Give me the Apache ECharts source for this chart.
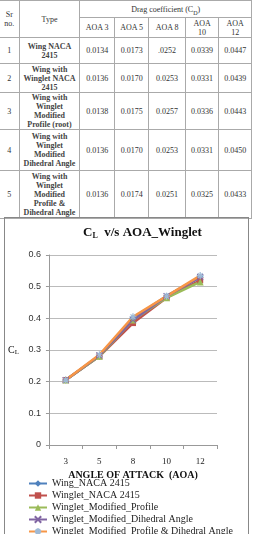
<!DOCTYPE html>
<html>
<head>
<meta charset="utf-8">
<script src="https://cdn.jsdelivr.net/npm/echarts@6/dist/echarts.min.js"></script>
<style>
html,body{margin:0;padding:0;width:253px;height:534px;overflow:hidden;background:#fff;}
#tbl{position:absolute;left:-1px;top:0;border-collapse:collapse;table-layout:fixed;
  font-family:"Liberation Serif","DejaVu Serif",serif;font-size:8px;line-height:9px;color:#333;}
#tbl td{border:1px solid #aaa;text-align:center;vertical-align:middle;padding:0;overflow:visible;}
#tbl td.ty{font-weight:bold;color:#444;}
#main{position:absolute;left:4px;top:217px;width:245px;height:330px;box-sizing:border-box;border:1px solid #888;}
</style>
</head>
<body>
<table id="tbl"></table>
<div id="main"></div>
<script>
// table data
var srNo = ['1','2','3','4','5'];
var types = ['Wing NACA<br>2415','Wing with<br>Winglet NACA<br>2415','Wing with<br>Winglet<br>Modified<br>Profile (root)',
  'Wing with<br>Winglet<br>Modified<br>Dihedral Angle','Wing with<br>Winglet<br>Modified<br>Profile &amp;<br>Dihedral Angle'];
var aoaHead = ['AOA 3','AOA 5','AOA 8','AOA<br>10','AOA<br>12'];
var cd1 = ['0.0134','0.0173','.0252','0.0339','0.0447'];
var cd2 = ['0.0136','0.0170','0.0253','0.0331','0.0439'];
var cd3 = ['0.0138','0.0175','0.0257','0.0336','0.0443'];
var cd4 = ['0.0136','0.0170','0.0253','0.0331','0.0450'];
var cd5 = ['0.0136','0.0174','0.0251','0.0325','0.0433'];
var cdRows = [cd1,cd2,cd3,cd4,cd5];

// chart data
var aoa = ['3','5','8','10','12'];
var names = ['Wing_NACA 2415','Winglet_NACA 2415','Winglet_Modified_Profile','Winglet_Modified_Dihedral Angle','Winglet_Modified_Profile & Dihedral Angle'];
var clWing = [0.205, 0.280, 0.400, 0.470, 0.530];
var clWinglet = [0.205, 0.280, 0.385, 0.465, 0.520];
var clProfile = [0.205, 0.280, 0.395, 0.465, 0.515];
var clDihedral = [0.205, 0.283, 0.395, 0.470, 0.530];
var clBoth = [0.205, 0.285, 0.405, 0.470, 0.535];

var colW = [20,62,35,35,37,34,33];
var rowH = [26,29,35,41,48];
var html = '<colgroup>';
for (var c = 0; c < colW.length; c++) html += '<col style="width:'+colW[c]+'px">';
html += '</colgroup>';
html += '<tr style="height:17px"><td rowspan="2">Sr<br>no.</td><td rowspan="2">Type</td><td colspan="5">Drag coefficient (C<sub style="font-size:6px;line-height:0">D</sub>)</td></tr>';
html += '<tr style="height:20px">';
for (var i = 0; i < aoaHead.length; i++) html += '<td>'+aoaHead[i]+'</td>';
html += '</tr>';
for (var r = 0; r < srNo.length; r++) {
  html += '<tr style="height:'+rowH[r]+'px"><td>'+srNo[r]+'</td><td class="ty">'+types[r]+'</td>';
  for (var k = 0; k < 5; k++) html += '<td>'+cdRows[r][k]+'</td>';
  html += '</tr>';
}
document.getElementById('tbl').innerHTML = html;

var serif = 'Liberation Serif';
var symX = 'path://M0,0L10,10M10,0L0,10';
var symStar = 'path://M5,0L5,10M0,5L10,5M1.5,1.5L8.5,8.5M8.5,1.5L1.5,8.5';
function mk(name, data, color, mcolor, symbol, size, stroke) {
  return {
    name: name, type: 'line', data: data,
    symbol: symbol, symbolSize: size,
    lineStyle: {color: color, width: 2.5},
    itemStyle: {color: mcolor, borderColor: mcolor, borderWidth: stroke ? 1.2 : 0},
    emphasis: {disabled: true}
  };
}

var chart = echarts.init(document.getElementById('main'));
chart.setOption({
  animation: false,
  title: {
    text: 'C{s|L}  v/s AOA_Winglet',
    left: 78, top: 8, padding: 0,
    textStyle: {fontFamily: serif, fontWeight: 'bold', fontSize: 13, color: '#111',
      rich: {s: {fontFamily: serif, fontWeight: 'bold', fontSize: 8, color: '#111', padding: [6,0,0,0]}}}
  },
  grid: {left: 43, right: 31, top: 37, bottom: 101},
  legend: {
    orient: 'vertical', left: 23, top: 260, itemGap: 1, itemWidth: 18, itemHeight: 8, padding: 0,
    textStyle: {fontFamily: serif, fontSize: 10, color: '#222', lineHeight: 11},
    data: names
  },
  xAxis: {
    type: 'category', data: aoa, boundaryGap: true,
    name: 'ANGLE OF ATTACK  (AOA)', nameLocation: 'middle', nameGap: 20,
    nameTextStyle: {fontFamily: serif, fontWeight: 'bold', fontSize: 10, color: '#111'},
    axisLine: {lineStyle: {color: '#999'}},
    axisTick: {show: true, length: 4, lineStyle: {color: '#999'}},
    axisLabel: {fontFamily: serif, fontSize: 9, color: '#222', margin: 12}
  },
  yAxis: {
    type: 'value', min: 0, max: 0.6, interval: 0.1,
    name: 'C{s|L}', nameLocation: 'middle', nameRotate: 0, nameGap: 30,
    nameTextStyle: {fontFamily: serif, fontSize: 10, color: '#111',
      rich: {s: {fontFamily: serif, fontSize: 7, color: '#111', padding: [4,0,0,0]}}},
    axisLine: {show: true, lineStyle: {color: '#999'}},
    axisTick: {show: true, length: 3, lineStyle: {color: '#999'}},
    splitLine: {lineStyle: {color: '#bbb'}},
    axisLabel: {fontFamily: 'Liberation Sans', fontSize: 9, color: '#333', margin: 8}
  },
  series: [
    mk(names[0], clWing, '#4F81BD', '#4F81BD', 'diamond', 7, false),
    mk(names[1], clWinglet, '#C0504D', '#C0504D', 'rect', 6, false),
    mk(names[2], clProfile, '#9BBB59', '#9BBB59', 'triangle', 7, false),
    mk(names[3], clDihedral, '#8064A2', '#8064A2', symX, 6, true),
    mk(names[4], clBoth, '#F79646', '#9fbad6', symStar, 7, true)
  ]
});
</script>
</body>
</html>
